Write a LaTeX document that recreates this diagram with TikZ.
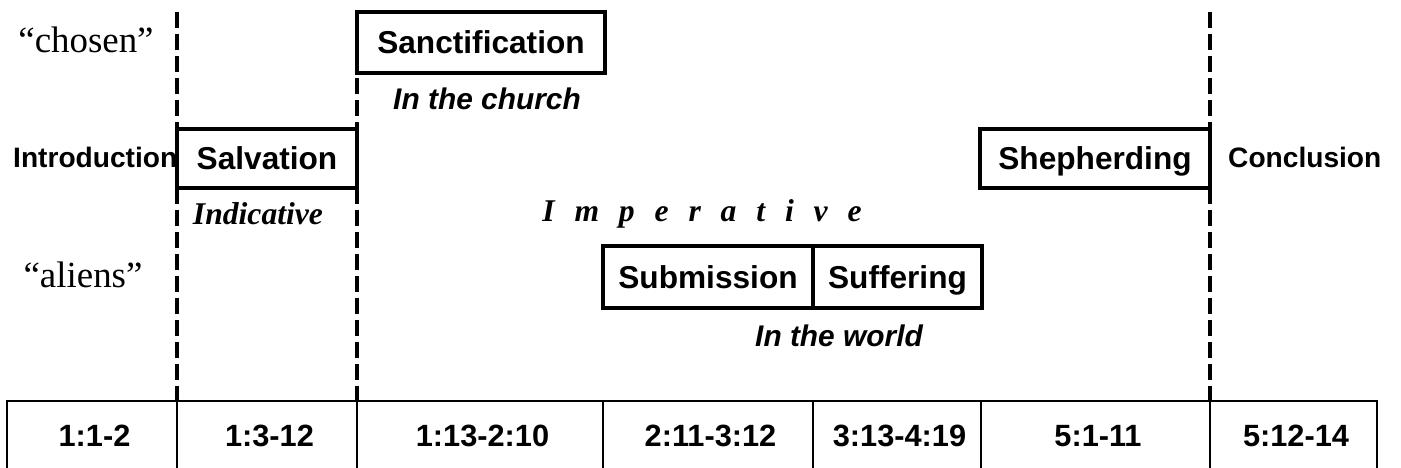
\documentclass[tikz,border=0pt]{standalone}
\usepackage{fontspec}
\setmainfont{Liberation Serif}
\setsansfont{Liberation Sans}
\usepackage{tikz}
\usetikzlibrary{positioning}

\tikzset{
	part/.style={draw, line width=2.4pt, inner sep=0pt, outer sep=0pt, text height=12.9pt, text depth=0pt, font=\sffamily\bfseries\fontsize{18}{20}\selectfont},
	cell/.style={draw, line width=1.1pt, inner sep=0pt, outer sep=0pt, anchor=north west, minimum height=1.38cm, text height=12.5pt, text depth=0pt, font=\sffamily\bfseries\fontsize{17.5}{20}\selectfont},
	divider/.style={line width=2.4pt, dash pattern=on 0.32cm off 0.12cm},
	sidelabel/.style={anchor=base west, font=\sffamily\bfseries\fontsize{16}{18}\selectfont},
	place/.style={anchor=base, font=\sffamily\bfseries\itshape\fontsize{17}{19}\selectfont},
	mood/.style={anchor=base, font=\bfseries\itshape\fontsize{18}{20}\selectfont},
	people/.style={anchor=base, font=\fontsize{21}{24}\selectfont}
}

\begin{document}
\begin{tikzpicture}
	\useasboundingbox (0,0) rectangle (28.02,9.36);
	
	% passage table
	\node[cell, minimum width=3.40cm] (c1) at (0.14, 1.34) {\hspace*{0.1cm}1:1-2};
	\node[cell, minimum width=3.60cm] (c2) at (3.54, 1.34) {\hspace*{0.1cm}1:3-12};
	\node[cell, minimum width=4.92cm] (c3) at (7.14, 1.34) {\hspace*{0.1cm}1:13-2:10};
	\node[cell, minimum width=4.20cm] (c4) at (12.06, 1.34) {\hspace*{0.1cm}2:11-3:12};
	\node[cell, minimum width=3.36cm] (c5) at (16.26, 1.34) {\hspace*{0.1cm}3:13-4:19};
	\node[cell, minimum width=4.58cm] (c6) at (19.62, 1.34) {\hspace*{0.1cm}5:1-11};
	\node[cell, minimum width=3.34cm] (c7) at (24.20, 1.34) {\hspace*{0.1cm}5:12-14};
	
	% dashed dividers
	\coordinate (t2) at (3.54, 9.12);
	\coordinate (t3) at (7.14, 9.12);
	\coordinate (t7) at (24.20, 9.12);
	\draw[divider] (t2) -- (c2.north west);
	\draw[divider] (t3) -- (c3.north west);
	\draw[divider] (t7) -- (c7.north west);
	
	% sections
	\node[part, minimum width=3.60cm, minimum height=1.18cm] (salv) at (5.34, 6.19) {Salvation};
	\node[part, minimum width=4.96cm, minimum height=1.22cm] (sanct) at (9.62, 8.51) {Sanctification};
	\node[part, minimum width=4.20cm, minimum height=1.24cm] (subm) at (14.16, 3.82) {Submission};
	\node[part, minimum width=3.38cm, minimum height=1.24cm] (suff) at (17.95, 3.82) {Suffering};
	\node[part, minimum width=4.60cm, minimum height=1.18cm] (shep) at (21.90, 6.19) {Shepherding};
	
	\node[sidelabel] (intro) at (0.14, 6.0) {Introduction};
	\node[sidelabel] (concl) at (24.44, 6.0) {Conclusion};
	
	\node[people] (chosen) at (1.72, 8.30) {“chosen”};
	\node[people] (aliens) at (1.66, 3.60) {“aliens”};
	
	\node[place] (church) at (9.74, 7.16) {In the church};
	\node[place] (world) at (16.78, 2.42) {In the world};
	
	\node[mood] (indic) at (5.16, 4.86) {Indicative};
	\node[mood] (imper) at (14.04, 4.92) {\spaceskip=11.3pt I m p e r a t i v e};
	
\end{tikzpicture}
\end{document}
